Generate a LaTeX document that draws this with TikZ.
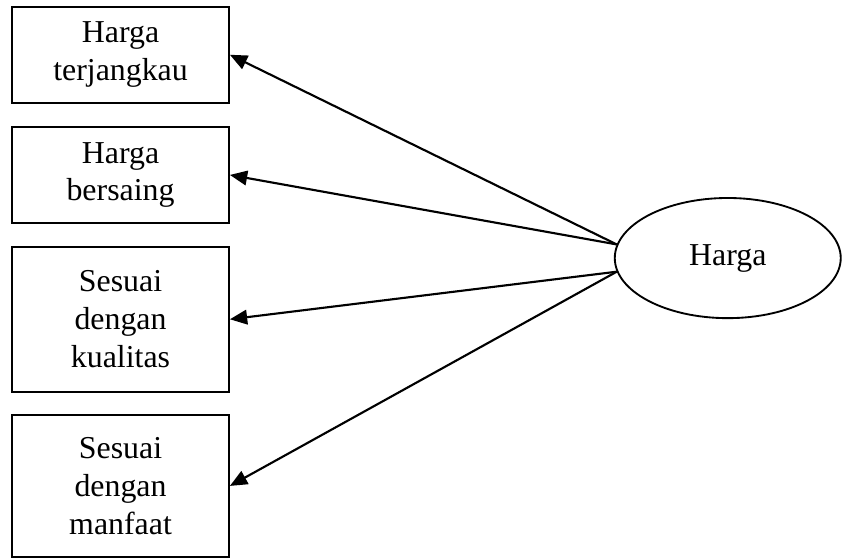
\documentclass[tikz,border=0pt]{standalone}
\usepackage{fontspec}
\setmainfont{Liberation Serif}
\usetikzlibrary{arrows.meta,shapes.geometric}

\begin{document}
\begin{tikzpicture}[
        indikator/.style={draw, line width=1.4pt, minimum width=5.74cm, align=center,
            inner sep=0pt, font=\fontsize{24}{28.5}\selectfont},
        variabel/.style={draw, ellipse, line width=1.4pt, minimum width=5.98cm,
            minimum height=3.18cm, inner sep=0pt, font=\fontsize{24}{28.5}\selectfont},
        panah/.style={line width=1.6pt, -{Triangle[length=13pt, width=11pt]}}
    ]
        % ===== CANVAS =====
        \useasboundingbox (0, 0) rectangle (22.31, 14.79);

        % ===== INDICATORS (left column) =====
        \node[indikator, minimum height=2.54cm] (terjangkau) at (3.19, 13.34) {Harga\\terjangkau};
        \node[indikator, minimum height=2.54cm] (bersaing)   at (3.19, 10.16) {Harga\\bersaing};
        \node[indikator, minimum height=3.84cm] (kualitas)   at (3.19, 6.34)  {Sesuai\\dengan\\kualitas};
        \node[indikator, minimum height=3.76cm] (manfaat)    at (3.19, 1.93)  {Sesuai\\dengan\\manfaat};

        % ===== LATENT VARIABLE =====
        \node[variabel] (harga) at (19.26, 7.96) {Harga};

        % ===== ARROWS =====
        \draw[panah] (harga.173) -- (terjangkau.east);
        \draw[panah] (harga.173) -- (bersaing.east);
        \draw[panah] (harga.187) -- (kualitas.east);
        \draw[panah] (harga.187) -- (manfaat.east);

    \end{tikzpicture}
\end{document}
